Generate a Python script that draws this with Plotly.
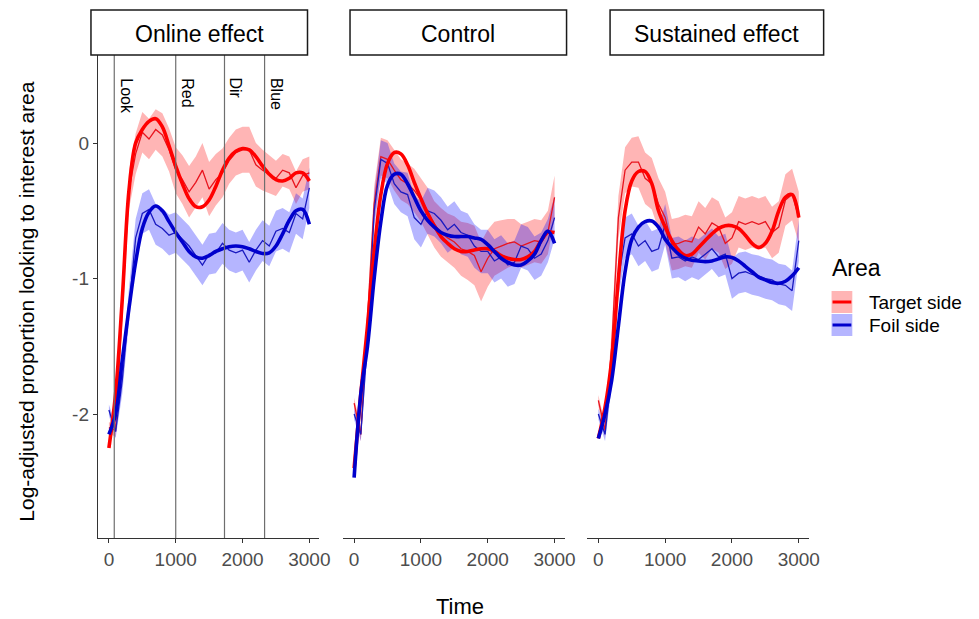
import plotly.graph_objects as go

W, H = 979, 619

# ---------------- data ----------------
TIME = list(range(0, 3001, 100))
PANELS = ["Online effect", "Control", "Sustained effect"]
SIDES = ["Target side", "Foil side"]
X_TICKS = [0, 1000, 2000, 3000]
Y_TICKS = [-2, -1, 0]
Y_TICK_LABELS = ["-2", "-1", "0"]
EVENTS = ["Look", "Red", "Dir", "Blue"]
EVENT_TIMES = [80, 1000, 1730, 2330]

# Online effect
online_target_raw = [-2.10, -2.12, -1.20, -0.35, -0.08, 0.08, 0.03, 0.10, 0.06, -0.05, -0.20,
                     -0.27, -0.36, -0.29, -0.20, -0.34, -0.27, -0.22, -0.13, -0.07, -0.05,
                     -0.05, -0.16, -0.20, -0.23, -0.26, -0.20, -0.22, -0.33, -0.24, -0.22]
online_target_hw = [0.04, 0.05, 0.10, 0.14, 0.15, 0.15, 0.15, 0.15, 0.16, 0.16, 0.17,
                    0.18, 0.19, 0.19, 0.20, 0.20, 0.19, 0.18, 0.17, 0.17, 0.17,
                    0.17, 0.16, 0.15, 0.14, 0.13, 0.12, 0.12, 0.12, 0.12, 0.12]
online_target_fit = [-2.25, -1.85, -1.15, -0.35, 0.00, 0.10, 0.16, 0.18, 0.12, -0.02, -0.17,
                     -0.30, -0.41, -0.47, -0.47, -0.42, -0.32, -0.20, -0.11, -0.06, -0.04,
                     -0.05, -0.10, -0.17, -0.23, -0.27, -0.28, -0.26, -0.22, -0.22, -0.28]
online_foil_raw = [-1.97, -2.13, -1.75, -1.20, -0.70, -0.52, -0.49, -0.60, -0.63, -0.68, -0.66,
                   -0.71, -0.76, -0.83, -0.90, -0.82, -0.81, -0.74, -0.79, -0.81, -0.79,
                   -0.88, -0.79, -0.72, -0.76, -0.65, -0.63, -0.66, -0.52, -0.56, -0.33]
online_foil_hw = [0.04, 0.05, 0.10, 0.13, 0.14, 0.15, 0.15, 0.15, 0.15, 0.15, 0.15,
                  0.15, 0.15, 0.15, 0.15, 0.15, 0.15, 0.15, 0.15, 0.15, 0.15,
                  0.15, 0.15, 0.15, 0.15, 0.15, 0.15, 0.15, 0.15, 0.15, 0.15]
online_foil_fit = [-2.15, -2.00, -1.60, -1.22, -0.88, -0.63, -0.51, -0.465, -0.50, -0.58, -0.66,
                   -0.73, -0.80, -0.84, -0.85, -0.83, -0.80, -0.78, -0.765, -0.76, -0.765,
                   -0.78, -0.80, -0.815, -0.81, -0.76, -0.67, -0.57, -0.50, -0.49, -0.60]

# Control
control_target_raw = [-1.92, -2.15, -1.30, -0.45, -0.10, -0.12, -0.20, -0.27, -0.30, -0.35, -0.42,
                      -0.50, -0.60, -0.66, -0.70, -0.73, -0.78, -0.80, -0.83, -0.95, -0.85,
                      -0.78, -0.76, -0.74, -0.73, -0.76, -0.74, -0.72, -0.73, -0.66, -0.40]
control_target_hw = [0.04, 0.05, 0.10, 0.13, 0.14, 0.14, 0.15, 0.15, 0.15, 0.16, 0.16,
                     0.17, 0.17, 0.18, 0.18, 0.19, 0.20, 0.21, 0.22, 0.22, 0.21,
                     0.20, 0.19, 0.18, 0.17, 0.16, 0.16, 0.16, 0.16, 0.16, 0.16]
control_target_fit = [-2.40, -1.85, -1.35, -0.80, -0.38, -0.15, -0.07, -0.08, -0.16, -0.29, -0.41,
                      -0.52, -0.61, -0.69, -0.74, -0.78, -0.80, -0.80, -0.79, -0.78, -0.78,
                      -0.80, -0.83, -0.85, -0.86, -0.86, -0.84, -0.80, -0.72, -0.66, -0.66]
control_foil_raw = [-2.00, -2.15, -1.45, -0.50, -0.12, -0.15, -0.30, -0.36, -0.38, -0.55, -0.60,
                    -0.50, -0.52, -0.57, -0.64, -0.60, -0.66, -0.68, -0.76, -0.80, -0.80,
                    -0.87, -0.84, -0.90, -0.88, -0.76, -0.78, -0.85, -0.82, -0.72, -0.55]
control_foil_hw = [0.04, 0.05, 0.10, 0.13, 0.14, 0.15, 0.15, 0.15, 0.16, 0.16, 0.17,
                   0.17, 0.17, 0.17, 0.17, 0.17, 0.16, 0.16, 0.16, 0.16, 0.16,
                   0.16, 0.16, 0.16, 0.16, 0.16, 0.16, 0.16, 0.16, 0.16, 0.16]
control_foil_fit = [-2.47, -1.85, -1.50, -1.00, -0.58, -0.31, -0.23, -0.23, -0.30, -0.40, -0.50,
                    -0.57, -0.62, -0.66, -0.68, -0.69, -0.69, -0.69, -0.70, -0.71, -0.75,
                    -0.80, -0.85, -0.88, -0.90, -0.90, -0.87, -0.82, -0.72, -0.65, -0.74]

# Sustained effect
sustained_target_raw = [-1.90, -2.12, -1.50, -0.55, -0.20, -0.14, -0.14, -0.26, -0.30, -0.45, -0.55,
                        -0.75, -0.74, -0.72, -0.73, -0.62, -0.67, -0.59, -0.62, -0.74, -0.70,
                        -0.58, -0.60, -0.58, -0.60, -0.58, -0.66, -0.62, -0.42, -0.38, -0.55]
sustained_target_hw = [0.04, 0.05, 0.12, 0.16, 0.17, 0.18, 0.19, 0.19, 0.19, 0.19, 0.19,
                       0.19, 0.19, 0.19, 0.19, 0.19, 0.19, 0.19, 0.19, 0.19, 0.19,
                       0.19, 0.19, 0.19, 0.19, 0.19, 0.19, 0.19, 0.19, 0.19, 0.19]
sustained_target_fit = [-2.18, -1.95, -1.60, -1.00, -0.50, -0.28, -0.21, -0.21, -0.30, -0.50, -0.62,
                        -0.72, -0.79, -0.83, -0.82, -0.77, -0.72, -0.67, -0.63, -0.61, -0.61,
                        -0.63, -0.68, -0.74, -0.77, -0.74, -0.65, -0.50, -0.40, -0.38, -0.55]
sustained_foil_raw = [-2.00, -2.15, -1.70, -1.00, -0.70, -0.67, -0.76, -0.72, -0.80, -0.78, -0.60,
                      -0.85, -0.84, -0.87, -0.84, -0.86, -0.82, -0.78, -0.84, -0.82, -1.00,
                      -0.96, -0.95, -0.97, -0.98, -1.00, -1.01, -1.04, -1.05, -1.09, -0.72]
sustained_foil_hw = [0.04, 0.05, 0.10, 0.14, 0.15, 0.15, 0.15, 0.15, 0.15, 0.15, 0.15,
                     0.15, 0.15, 0.15, 0.15, 0.15, 0.15, 0.15, 0.15, 0.15, 0.15,
                     0.15, 0.15, 0.15, 0.15, 0.15, 0.15, 0.15, 0.15, 0.15, 0.15]
sustained_foil_fit = [-2.18, -2.00, -1.75, -1.35, -0.95, -0.71, -0.62, -0.58, -0.575, -0.62, -0.71,
                      -0.77, -0.82, -0.85, -0.865, -0.87, -0.875, -0.87, -0.855, -0.84, -0.845,
                      -0.87, -0.91, -0.95, -0.99, -1.01, -1.03, -1.035, -1.02, -0.98, -0.92]

DATA = [
    [(online_target_raw, online_target_hw, online_target_fit),
     (online_foil_raw, online_foil_hw, online_foil_fit)],
    [(control_target_raw, control_target_hw, control_target_fit),
     (control_foil_raw, control_foil_hw, control_foil_fit)],
    [(sustained_target_raw, sustained_target_hw, sustained_target_fit),
     (sustained_foil_raw, sustained_foil_hw, sustained_foil_fit)],
]

# ---------------- style ----------------
FONT = "Liberation Sans, Arial, Helvetica, sans-serif"
RIBBON = ["rgba(255,0,0,0.29)", "rgba(0,0,255,0.29)"]
THIN = ["#e8141e", "#1a1ac0"]
THICK = ["#ff0000", "#0000cc"]

# pixel positions in the 979x619 window
X_DOM = [(99, 323), (347, 571), (594, 818)]
Y_DOM = (55, 538)
STRIPS = [(92, 311), (354, 573), (617, 833)]
X_RANGE = [-165, 3150]
Y_RANGE = [-2.915, 0.65]


def px_x(v):
    return v / W


def px_y(v):
    return 1 - v / H


fig = go.Figure()

for i in range(3):
    xa = "x" if i == 0 else f"x{i+1}"
    ya = "y" if i == 0 else f"y{i+1}"
    for s in range(2):
        raw, hw, fit = DATA[i][s]
        upper = [r + h for r, h in zip(raw, hw)]
        lower = [r - h for r, h in zip(raw, hw)]
        fig.add_trace(go.Scatter(
            x=TIME + TIME[::-1], y=upper + lower[::-1], fill="toself",
            fillcolor=RIBBON[s], line=dict(width=0), mode="lines",
            hoverinfo="skip", showlegend=False, xaxis=xa, yaxis=ya))
    for s in range(2):
        raw, hw, fit = DATA[i][s]
        fig.add_trace(go.Scatter(
            x=TIME, y=raw, mode="lines", line=dict(color=THIN[s], width=1.3),
            showlegend=False, xaxis=xa, yaxis=ya, name=SIDES[s]))
    for s in range(2):
        raw, hw, fit = DATA[i][s]
        fig.add_trace(go.Scatter(
            x=TIME, y=fit, mode="lines",
            line=dict(color=THICK[s], width=3.6, shape="spline", smoothing=1.0),
            showlegend=False, xaxis=xa, yaxis=ya, name=SIDES[s]))

layout = dict(
    width=W, height=H, margin=dict(l=0, r=0, t=0, b=0),
    paper_bgcolor="white", plot_bgcolor="white",
    font=dict(family=FONT, color="#000000"),
    showlegend=False,
)

for i in range(3):
    k = "" if i == 0 else str(i + 1)
    layout["xaxis" + k] = dict(
        domain=[px_x(X_DOM[i][0]), px_x(X_DOM[i][1])], range=X_RANGE,
        anchor="y" + k, tickvals=X_TICKS, ticktext=[str(t) for t in X_TICKS],
        showline=True, linecolor="#333333", linewidth=1.2,
        ticks="outside", ticklen=4, tickcolor="#333333", tickwidth=1,
        tickfont=dict(size=19, color="#4d4d4d", family=FONT),
        showgrid=False, zeroline=False, fixedrange=True)
    yd = dict(
        domain=[px_y(Y_DOM[1]), px_y(Y_DOM[0])], range=Y_RANGE,
        anchor="x" + k, showgrid=False, zeroline=False, fixedrange=True)
    if i == 0:
        yd.update(tickvals=Y_TICKS, ticktext=Y_TICK_LABELS, showline=True,
                  linecolor="#333333", linewidth=1.2, ticks="outside", ticklen=4,
                  tickcolor="#333333", tickfont=dict(size=19, color="#4d4d4d", family=FONT))
    else:
        yd.update(visible=False)
    layout["yaxis" + k] = yd

shapes = []
annotations = []

for name, t in zip(EVENTS, EVENT_TIMES):
    shapes.append(dict(type="line", xref="x", yref="y domain", x0=t, x1=t, y0=0, y1=1,
                       line=dict(color="#6e6e6e", width=1.2)))
    annotations.append(dict(text=name, xref="x", yref="paper", x=t, y=px_y(76),
                            xanchor="left", yanchor="top", xshift=1, textangle=90,
                            showarrow=False, font=dict(size=16, color="#000000", family=FONT)))

for i, (a, b) in enumerate(STRIPS):
    shapes.append(dict(type="rect", xref="paper", yref="paper",
                       x0=px_x(a), x1=px_x(b), y0=px_y(55), y1=px_y(10),
                       line=dict(color="#1a1a1a", width=1.5), fillcolor="white"))
    annotations.append(dict(text=PANELS[i], xref="paper", yref="paper",
                            x=px_x((a + b) / 2), y=px_y(34), xanchor="center", yanchor="middle",
                            showarrow=False, font=dict(size=23, color="#000000", family=FONT)))

annotations.append(dict(text="Time", xref="paper", yref="paper", x=px_x(465), y=px_y(606),
                        xanchor="center", yanchor="middle", showarrow=False,
                        font=dict(size=22, family=FONT)))
annotations.append(dict(text="Log-adjusted proportion looking to interest area",
                        xref="paper", yref="paper", x=px_x(26), y=px_y(302),
                        xanchor="center", yanchor="middle", textangle=-90, showarrow=False,
                        font=dict(size=21, family=FONT)))

annotations.append(dict(text="Area", xref="paper", yref="paper", x=px_x(839), y=px_y(268),
                        xanchor="left", yanchor="middle", showarrow=False,
                        font=dict(size=23, family=FONT)))
key_y = [(291, 313), (314, 336)]
for s in range(2):
    y0, y1 = key_y[s]
    shapes.append(dict(type="rect", xref="paper", yref="paper",
                       x0=px_x(841), x1=px_x(862), y0=px_y(y1), y1=px_y(y0),
                       line=dict(width=0), fillcolor=RIBBON[s]))
    ym = (y0 + y1) / 2
    shapes.append(dict(type="line", xref="paper", yref="paper",
                       x0=px_x(842), x1=px_x(861), y0=px_y(ym), y1=px_y(ym),
                       line=dict(color=THICK[s], width=3)))
    annotations.append(dict(text=SIDES[s], xref="paper", yref="paper", x=px_x(877), y=px_y(ym),
                            xanchor="left", yanchor="middle", showarrow=False,
                            font=dict(size=19, family=FONT)))

layout["shapes"] = shapes
layout["annotations"] = annotations
fig.update_layout(**layout)

# remove the default 8px page margin so the 979x619 figure fills the window exactly
fig.write_html("out.html", config={"displayModeBar": False},
               post_script="document.body.style.margin='0px';")
